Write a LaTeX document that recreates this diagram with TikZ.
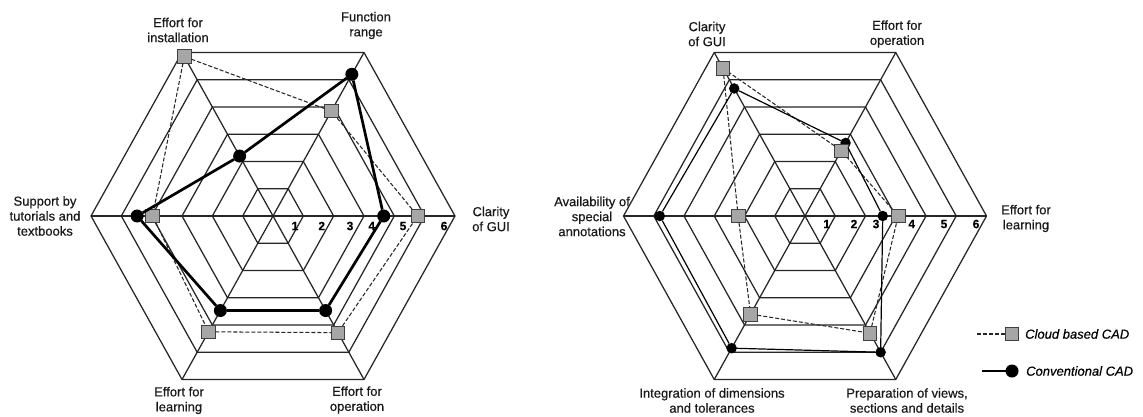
\documentclass[tikz,border=0pt]{standalone}
\usepackage{fontspec}
\setmainfont{Liberation Sans}
\newfontfamily\labfont{Liberation Sans}[FakeBold=0.45]
\begin{document}
\begin{tikzpicture}[x=1pt,y=-1pt,
  grid/.style={line width=1.25pt, draw=black!85},
  conv/.style={line width=2.7pt, draw=black},
  convthin/.style={line width=1.2pt, draw=black},
  cloud/.style={line width=1.05pt, draw=black!85, dash pattern=on 4pt off 2pt},
  sqm/.style={draw=black!75, fill=black!35, line width=0.7pt, minimum size=13.5pt, inner sep=0pt, outer sep=0pt},
  dotL/.style={circle, fill=black, minimum size=13pt, inner sep=0pt, outer sep=0pt},
  dotR/.style={circle, fill=black, minimum size=10.5pt, inner sep=0pt, outer sep=0pt},
  lab/.style={font=\labfont\fontsize{13}{15}\selectfont, align=center, text=black!90, inner sep=0pt},
  num/.style={font=\labfont\fontsize{12}{14}\selectfont\bfseries, inner sep=0pt},
  leg/.style={font=\labfont\fontsize{13}{15}\selectfont\itshape, anchor=west, inner sep=0pt}]
\useasboundingbox (0,0) rectangle (1143,416);
\fill[white] (0,0) rectangle (1143,416);

% ---------------- left chart ----------------
\begin{scope}[shift={(273pt,-216pt)}, x=30.33pt, y=27.25pt]
  \foreach \k in {1,...,6}
    \draw[grid] (\k,0) -- (\k/2,\k) -- (-\k/2,\k) -- (-\k,0) -- (-\k/2,-\k) -- (\k/2,-\k) -- cycle;
  \draw[grid] (-6,0) -- (6,0);
  \draw[grid] (-3,-6) -- (3,6);
  \draw[grid] (3,-6) -- (-3,6);
  % conventional
  \node[dotL] (La0) at (3.65,0) {};
  \node[dotL] (La1) at (2.6,5.2) {};
  \node[dotL] (La2) at (-1.1,2.2) {};
  \node[dotL] (La3) at (-4.48,0) {};
  \node[dotL] (La4) at (-1.735,-3.47) {};
  \node[dotL] (La5) at (1.735,-3.47) {};
  % cloud
  \node[sqm] (Lb0) at (4.77,0) {};
  \node[sqm] (Lb1) at (1.925,3.85) {};
  \node[sqm] (Lb2) at (-2.925,5.85) {};
  \node[sqm] (Lb3) at (-3.97,0) {};
  \node[sqm] (Lb4) at (-2.125,-4.25) {};
  \node[sqm] (Lb5) at (2.14,-4.28) {};
\end{scope}
\draw[cloud] (Lb0) -- (Lb1) -- (Lb2) -- (Lb3) -- (Lb4) -- (Lb5) -- (Lb0);
\draw[conv] (La0) -- (La1) -- (La2) -- (La3) -- (La4) -- (La5) -- (La0);

\node[num] (Ln1) at (295,226) {1};
\node[num] (Ln2) at (321.7,226) {2};
\node[num] (Ln3) at (350,226) {3};
\node[num] (Ln4) at (371.7,226) {4};
\node[num] (Ln5) at (403,226) {5};
\node[num] (Ln6) at (444,226) {6};

\node[lab] (Ll2) at (178,30) {Effort for\\installation};
\node[lab] (Ll1) at (366,25.5) {Function\\range};
\node[lab] (Ll0) at (491,219) {Clarity\\of GUI};
\node[lab] (Ll3) at (45,216) {Support by\\tutorials and\\textbooks};
\node[lab] (Ll4) at (179,400.5) {Effort for\\learning};
\node[lab] (Ll5) at (357,400) {Effort for\\operation};

% ---------------- right chart ----------------
\begin{scope}[shift={(805pt,-216pt)}, x=30.25pt, y=27.25pt]
  \foreach \k in {1,...,6}
    \draw[grid] (\k,0) -- (\k/2,\k) -- (-\k/2,\k) -- (-\k,0) -- (-\k/2,-\k) -- (\k/2,-\k) -- cycle;
  \draw[grid] (-6,0) -- (6,0);
  \draw[grid] (-3,-6) -- (3,6);
  \draw[grid] (3,-6) -- (-3,6);
  % conventional
  \node[dotR] (Ra0) at (2.57,0) {};
  \node[dotR] (Ra1) at (1.34,2.68) {};
  \node[dotR] (Ra2) at (-2.34,4.68) {};
  \node[dotR] (Ra3) at (-4.8,0) {};
  \node[dotR] (Ra4) at (-2.425,-4.85) {};
  \node[dotR] (Ra5) at (2.5,-5.0) {};
  % cloud
  \node[sqm] (Rb0) at (3.08,0) {};
  \node[sqm] (Rb1) at (1.2,2.4) {};
  \node[sqm] (Rb2) at (-2.71,5.42) {};
  \node[sqm] (Rb3) at (-2.21,0) {};
  \node[sqm] (Rb4) at (-1.8,-3.6) {};
  \node[sqm] (Rb5) at (2.15,-4.3) {};
\end{scope}
\draw[cloud] (Rb0) -- (Rb1) -- (Rb2) -- (Rb3) -- (Rb4) -- (Rb5) -- (Rb0);
\draw[convthin] (Ra0) -- (Ra1) -- (Ra2) -- (Ra3) -- (Ra4) -- (Ra5) -- (Ra0);

\node[num] (Rn1) at (826.7,224) {1};
\node[num] (Rn2) at (854,224) {2};
\node[num] (Rn3) at (876,224) {3};
\node[num] (Rn4) at (911.7,224) {4};
\node[num] (Rn5) at (944,224) {5};
\node[num] (Rn6) at (976,224) {6};

\node[lab] (Rl2) at (707,34) {Clarity\\of GUI};
\node[lab] (Rl1) at (897,34) {Effort for\\operation};
\node[lab] (Rl0) at (1026,218.5) {Effort for\\learning};
\node[lab] (Rl3) at (592,216.5) {Availability of\\special\\annotations};
\node[lab] (Rl4) at (712,400.5) {Integration of dimensions\\and tolerances};
\node[lab] (Rl5) at (907,400.5) {Preparation of views,\\sections and details};

% ---------------- legend ----------------
\coordinate (g1) at (977,334);
\node[sqm] (gs) at (1012,334) {};
\draw[cloud] (g1) -- (gs);
\node[leg] (gt1) at (1025,334) {Cloud based CAD};
\coordinate (g2) at (982,371);
\node[dotL] (gc) at (1012,371) {};
\draw[convthin] (g2) -- (gc);
\node[leg] (gt2) at (1026,371) {Conventional CAD};
\end{tikzpicture}
\end{document}
